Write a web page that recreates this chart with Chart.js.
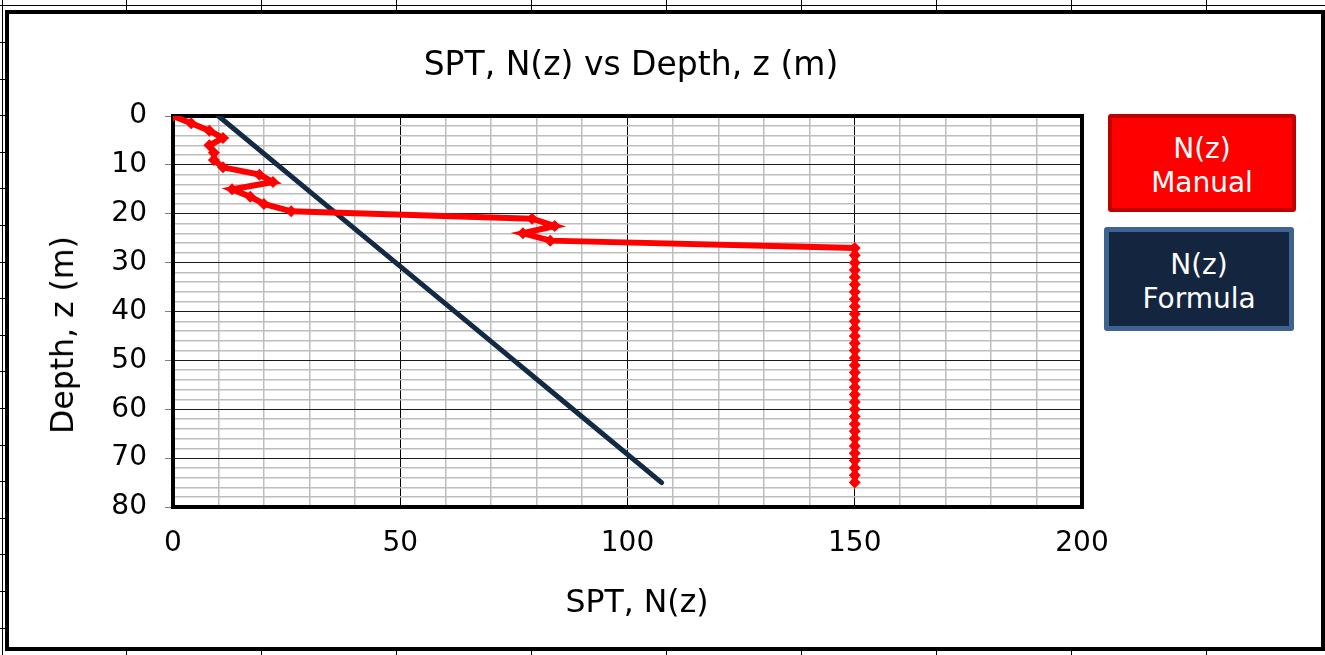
<!DOCTYPE html>
<html>
<head>
<meta charset="utf-8">
<script src="https://cdn.jsdelivr.net/npm/chart.js@4.4.1/dist/chart.umd.min.js"></script>
<style>
  html, body { margin: 0; padding: 0; background: #fff; }
  body { width: 1325px; height: 655px; position: relative; overflow: hidden; font-family: "DejaVu Sans", Verdana, sans-serif; }
  #sheet { position: absolute; left: 0; top: 0; width: 1325px; height: 655px; }
  .hl { position: absolute; height: 1px; background: #000; }
  .vl { position: absolute; width: 1px; background: #000; }
  #frame { position: absolute; left: 5px; top: 10px; width: 1312px; height: 633px; border: 4px solid #000; background: #fff; }
  #wrap { position: absolute; left: 0; top: 0; width: 1325px; height: 655px; }
  .txt { position: absolute; color: #000; white-space: nowrap; transform: translate(-50%, -50%); }
  #title { left: 631px; top: 63px; font-size: 33px; }
  #xTitle { left: 637px; top: 601px; font-size: 31.5px; }
  #yTitle { left: 62px; top: 335px; font-size: 31.5px; transform: translate(-50%, -50%) rotate(-90deg); }
  .legend-box { position: absolute; color: #fff; font-size: 28px; line-height: 34px; text-align: center; box-sizing: border-box; display: flex; align-items: center; justify-content: center; border-radius: 3px; padding-top: 5px; }
  #legManual { left: 1108px; top: 114px; width: 188px; height: 98px; background: #ff0000; border: 4px solid #c00000; }
  #legFormula { left: 1104px; top: 227px; width: 190px; height: 104px; background: #14263f; border: 5px solid #3e6391; }
</style>
</head>
<body>
<div id="sheet"></div>
<div id="frame"></div>
<div id="wrap"><canvas id="chart" width="1325" height="655"></canvas></div>
<div class="txt" id="title">SPT, N(z) vs Depth, z (m)</div>
<div class="txt" id="xTitle">SPT, N(z)</div>
<div class="txt" id="yTitle">Depth, z (m)</div>
<div class="legend-box" id="legManual">N(z)<br>Manual</div>
<div class="legend-box" id="legFormula">N(z)<br>Formula</div>

<script>
// depth (m) for the manual SPT readings
const depths = [0, 1.5, 3, 4.5, 6, 7.5, 9, 10.5, 12, 13.5, 15, 16.5, 18, 19.5, 21, 22.5, 24, 25.5,
    27, 28.5, 30, 31.5, 33, 34.5, 36, 37.5, 39, 40.5, 42, 43.5, 45, 46.5, 48, 49.5, 51, 52.5,
    54, 55.5, 57, 58.5, 60, 61.5, 63, 64.5, 66, 67.5, 69, 70.5, 72, 73.5, 75];
const manualN = [0, 4, 8, 11, 8, 9, 9, 11, 19, 22, 13, 17, 20, 26, 79, 84, 77, 83,
    150, 150, 150, 150, 150, 150, 150, 150, 150, 150, 150, 150, 150, 150, 150, 150, 150, 150,
    150, 150, 150, 150, 150, 150, 150, 150, 150, 150, 150, 150, 150, 150, 150];

// formula line (straight)
const formulaDepths = [0, 15, 30, 45, 60, 75];
const formulaN = [10, 29.5, 49, 68.5, 88, 107.5];

const xTickLabels = [0, 50, 100, 150, 200];
const yTickLabels = [0, 10, 20, 30, 40, 50, 60, 70, 80];

// spreadsheet cell lines behind the chart
const sheet = document.getElementById("sheet");
function addLine(cls, l, t, w, h) {
    const d = document.createElement("div");
    d.className = cls;
    d.style.left = l + "px"; d.style.top = t + "px";
    if (w) d.style.width = w + "px";
    if (h) d.style.height = h + "px";
    sheet.appendChild(d);
}
addLine("hl", 0, 5, 1325, 0);
addLine("vl", 2, 0, 0, 655);
for (let x = 126; x < 1325; x += 135) {
    addLine("vl", x, 0, 0, 10);
    addLine("vl", x, 648, 0, 7);
}
for (let y = 42; y < 655; y += 36.6) {
    addLine("hl", 0, Math.round(y), 5, 0);
}

const toPts = (xs, ys) => xs.map((z, i) => ({ x: ys[i], y: z }));

const framePlugin = {
    id: "plotFrame",
    beforeDatasetsDraw(chart) {
        const { ctx, chartArea: a } = chart;
        ctx.save();
        ctx.strokeStyle = "#000";
        ctx.lineWidth = 4;
        ctx.strokeRect(a.left, a.top, a.right - a.left, a.bottom - a.top);
        ctx.restore();
    }
};

new Chart(document.getElementById("chart"), {
    type: "scatter",
    data: {
        datasets: [
            {
                label: "N(z) Manual",
                data: toPts(depths, manualN),
                showLine: true,
                borderColor: "#ff0000",
                borderWidth: 6,
                backgroundColor: "#ff0000",
                pointStyle: "rectRot",
                pointRadius: 6,
                pointBorderWidth: 0,
                pointBackgroundColor: "#ff0000",
            },
            {
                label: "N(z) Formula",
                data: toPts(formulaDepths, formulaN),
                showLine: true,
                borderColor: "#132a45",
                borderWidth: 5,
                borderCapStyle: "round",
                pointRadius: 0,
            }
        ]
    },
    options: {
        responsive: false,
        animation: false,
        devicePixelRatio: 1,
        layout: { padding: { left: 0, right: 243, top: 116, bottom: 0 } },
        plugins: {
            legend: { display: false },
            tooltip: { enabled: false },
            title: { display: false },
        },
        scales: {
            x: {
                type: "linear",
                min: 0, max: 200,
                afterFit: s => { s.height = 148; },
                ticks: {
                    stepSize: 10,
                    autoSkip: false,
                    maxRotation: 0,
                    padding: 12,
                    color: "#000",
                    font: { family: "DejaVu Sans", size: 28 },
                    callback: v => xTickLabels.includes(v) ? v : "",
                },
                grid: {
                    color: c => c.tick && c.tick.value % 50 === 0 ? "#000" : "#bdbdbd",
                    lineWidth: c => c.tick && c.tick.value % 50 === 0 ? 1 : 1.5,
                    tickLength: 8,
                    tickColor: "rgba(0,0,0,0)",
                },
                border: { display: false },
            },
            y: {
                type: "linear",
                reverse: true,
                min: 0, max: 80,
                afterFit: s => { s.width = 173; },
                ticks: {
                    stepSize: 2,
                    autoSkip: false,
                    padding: 18,
                    color: "#000",
                    font: { family: "DejaVu Sans", size: 28 },
                    callback: v => yTickLabels.includes(Math.round(v * 100) / 100) ? v : "",
                },
                grid: {
                    color: c => c.tick && Math.round(c.tick.value) % 10 === 0 ? "#1a1a1a" : "#bdbdbd",
                    lineWidth: c => c.tick && Math.round(c.tick.value) % 10 === 0 ? 1 : 1.5,
                    tickLength: 8,
                    tickColor: c => c.tick && Math.round(c.tick.value) % 10 === 0 ? "#808080" : "rgba(0,0,0,0)",
                },
                border: { display: false },
            }
        }
    },
    plugins: [framePlugin]
});
</script>
</body>
</html>
